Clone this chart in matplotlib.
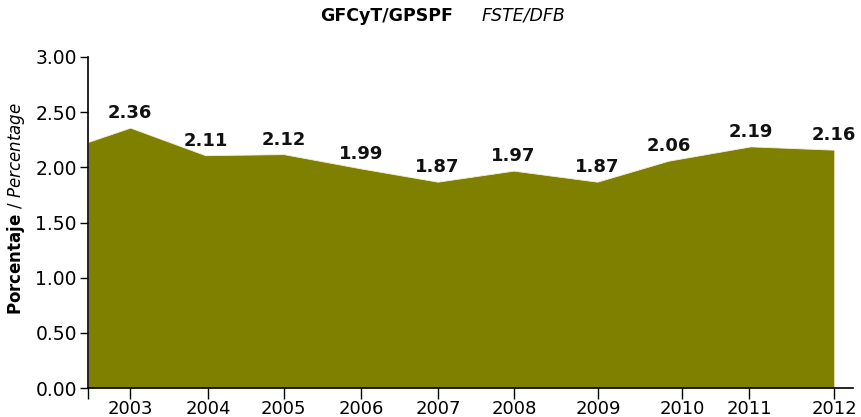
import matplotlib
matplotlib.use("Agg")
import matplotlib.pyplot as plt

# values (x in year units as laid out on the original axis)
x_pos = [2002.46, 2003.00, 2003.96, 2004.96, 2005.95, 2006.93, 2007.90, 2008.97, 2009.88, 2010.93, 2012.00]
values = [2.23, 2.36, 2.11, 2.12, 1.99, 1.87, 1.97, 1.87, 2.06, 2.19, 2.16]
labels = ['', '2.36', '2.11', '2.12', '1.99', '1.87', '1.97', '1.87', '2.06', '2.19', '2.16']
tick_pos = [2002.46, 2003.00, 2004.00, 2004.96, 2005.95, 2006.94, 2007.91, 2008.98, 2010.06, 2010.91, 2012.00]
tick_labels = ['', '2003', '2004', '2005', '2006', '2007', '2008', '2009', '2010', '2011', '2012']
yticks = [0.0, 0.5, 1.0, 1.5, 2.0, 2.5, 3.0]

plt.rcParams['font.family'] = ['DejaVu Sans']
fig = plt.figure(figsize=(8.62, 4.17), dpi=100)
ax = fig.add_axes([88/862, 1-388/417, (853-88)/862, (388-57)/417])

ax.fill_between(x_pos, values, 0, color='#808000', edgecolor='#f4f0d8', linewidth=0.6)
for x, v, t in zip(x_pos, values, labels):
    if t:
        ax.annotate(t, (x, v), xytext=(0, 4), textcoords='offset points', ha='center', va='bottom',
                    fontsize=13, fontweight='bold', color='#111111')

ax.set_xlim(2002.46, 2012.24)
ax.set_ylim(0, 3.0)
ax.set_xticks(tick_pos)
ax.set_xticklabels(tick_labels, fontsize=13)
ax.set_yticks(yticks)
ax.set_yticklabels([f'{v:.2f}' for v in yticks], fontsize=13.5)
ax.tick_params(axis='x', direction='out', length=8, width=1, pad=1)
ax.tick_params(axis='y', direction='out', length=6, width=1, pad=2)
for s in ['top', 'right']:
    ax.spines[s].set_visible(False)
ax.spines['left'].set_linewidth(1.2); ax.spines['bottom'].set_linewidth(1.2)

fig.text(16/862, 0.5, r'$\bf{Porcentaje}$ / $\it{Percentage}$', rotation=90, ha='center', va='center', fontsize=12)
fig.text(453/862, 1-16/417, 'GFCyT/GPSPF', ha='right', va='center', fontsize=12.5, fontweight='bold')
fig.text(482/862, 1-16/417, 'FSTE/DFB', ha='left', va='center', fontsize=12.5, style='italic')

fig.savefig('out.png', dpi=100)
